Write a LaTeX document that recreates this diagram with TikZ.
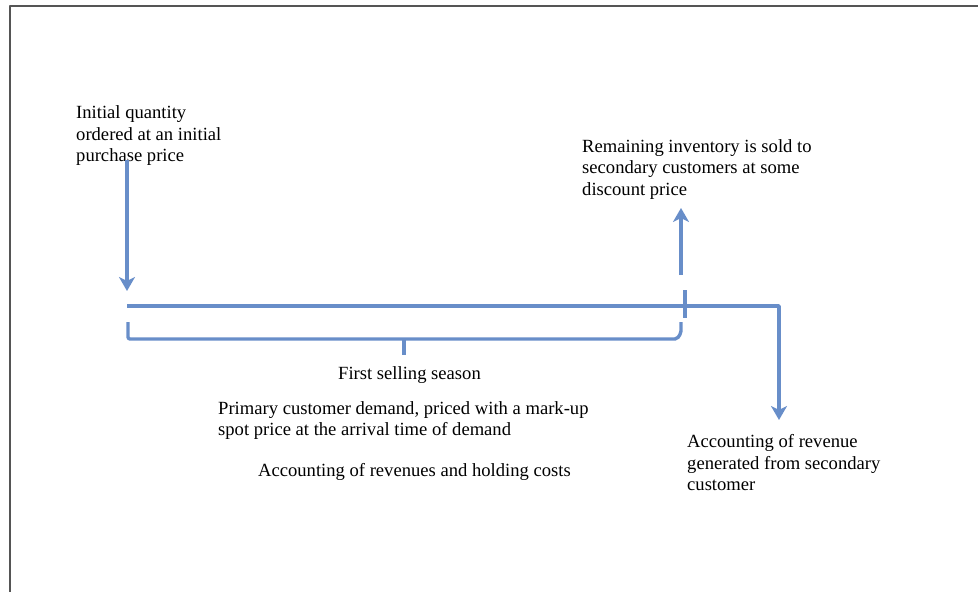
\documentclass[tikz,border=0pt]{standalone}
\usepackage{fontspec}
\setmainfont{Liberation Serif}
\usetikzlibrary{arrows.meta}
\definecolor{lineblue}{RGB}{104,142,201}
\definecolor{framegray}{RGB}{85,85,85}
\tikzset{
	flow/.style={draw=lineblue, line width=3.4pt, line join=round},
	tipflow/.style={flow, -{Stealth[length=14pt,width=16pt,inset=4pt]}},
	txt/.style={inner sep=0pt, anchor=north west, align=left}
}
\begin{document}
\begin{tikzpicture}[x=1pt, y=-1pt, font=\fontsize{18.6}{21.2}\selectfont, line join=round]
			\useasboundingbox (0,0) rectangle (978,592);
			\draw[framegray, line width=1.2pt] (978,6)--(10,6)--(10,592);
			\path 
			(127,160) coordinate (S)
			(127,291) coordinate (T)
			(127,306) coordinate (L0)
			(779,306) coordinate (L1)
			(779,420) coordinate (R)
			(681,275) coordinate (U0)
			(681,208) coordinate (U1)
			(685,290) coordinate (K0)
			(685,318) coordinate (K1)
			(128,322) coordinate (B0)
			(128,339) coordinate (B1)
			(677,339) coordinate (B2)
			(681,333) coordinate (B3)
			(681,322) coordinate (B4)
			(404,339) coordinate (M0)
			(404,355) coordinate (M1)
			;
			\node[txt] (order) at (76,105.8) {Initial quantity\\ordered at an initial\\purchase price};
			\node[txt] (remain) at (582,139.5) {Remaining inventory is sold to\\secondary customers at some\\discount price};
			\node[txt] (season) at (338,366.5) {First selling season};
			\node[txt] (demand) at (218,401.5) {Primary customer demand, priced with a mark-up\\spot price at the arrival time of demand};
			\node[txt] (costs) at (258,463.5) {Accounting of revenues and holding costs};
			\node[txt] (second) at (687,434.5) {Accounting of revenue\\generated from secondary\\customer};
			\draw[tipflow] (S)--(T);
			\draw[tipflow] (L0)--(L1)--(R);
			\draw[tipflow] (U0)--(U1);
			\draw[flow] (K0)--(K1);
			\draw[flow, rounded corners=2pt] (B0)--(B1)--(B2)--(B3)--(B4);
			\draw[flow] (M0)--(M1);
\end{tikzpicture}
\end{document}
